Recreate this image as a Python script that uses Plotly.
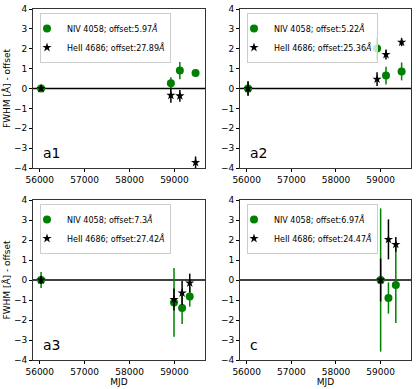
import plotly.graph_objects as go

# ---------------- data ----------------
panel_names = ["a1", "a2", "a3", "c"]
niv_offsets = ["5.97", "5.22", "7.3", "6.97"]
heii_offsets = ["27.89", "25.36", "27.42", "24.47"]

# NIV 4058 (green circles)
niv_mjd = {
    "a1": [56030, 58920, 59120, 59470],
    "a2": [56030, 58920, 59120, 59470],
    "a3": [56030, 58990, 59170, 59340],
    "c": [59000, 59175, 59340],
}
niv_val = {
    "a1": [0.0, 0.27, 0.90, 0.78],
    "a2": [0.0, 2.01, 0.65, 0.86],
    "a3": [0.0, -1.12, -1.40, -0.83],
    "c": [0.0, -0.90, -0.25],
}
niv_err = {
    "a1": [0.15, 0.30, 0.43, 0.18],
    "a2": [0.35, 0.55, 0.45, 0.45],
    "a3": [0.40, 1.72, 0.80, 0.50],
    "c": [3.58, 0.78, 1.90],
}

# HeII 4686 (black stars)
heii_mjd = {
    "a1": [56030, 58920, 59120, 59470],
    "a2": [56030, 58920, 59120, 59470],
    "a3": [56030, 58990, 59170, 59340],
    "c": [59000, 59175, 59340],
}
heii_val = {
    "a1": [0.0, -0.34, -0.37, -3.72],
    "a2": [0.0, 0.47, 1.71, 2.33],
    "a3": [0.0, -0.97, -0.65, -0.15],
    "c": [0.0, 2.03, 1.78],
}
heii_err = {
    "a1": [0.10, 0.38, 0.30, 0.30],
    "a2": [0.37, 0.35, 0.25, 0.20],
    "a3": [0.20, 0.55, 0.60, 0.47],
    "c": [1.07, 1.00, 0.37],
}

x_tickvals = [56000, 57000, 58000, 59000]
x_ticktext = ["56000", "57000", "58000", "59000"]
y_tickvals = [-4, -3, -2, -1, 0, 1, 2, 3, 4]
y_ticktext = ["\u22124", "\u22123", "\u22122", "\u22121", "0", "1", "2", "3", "4"]
x_range = [55850, 59680]
y_range = [-4, 4]

# ---------------- layout ----------------
W, H = 416, 389
FONT = "DejaVu Sans"
GREEN = "#008000"

# pixel boxes (left, right, top, bottom)
boxes = {
    "a1": (33, 205, 9, 168),
    "a2": (240, 411, 9, 168),
    "a3": (33, 205, 200, 360),
    "c": (240, 411, 200, 360),
}

fig = go.Figure()
layout = dict(
    width=W, height=H,
    margin=dict(l=0, r=0, t=0, b=0),
    paper_bgcolor="white", plot_bgcolor="white",
    font=dict(family=FONT, size=9, color="black"),
    showlegend=True,
)

for i, name in enumerate(panel_names):
    k = "" if i == 0 else str(i + 1)
    L, R, T, B = boxes[name]
    xd = [L / W, R / W]
    yd = [1 - B / H, 1 - T / H]
    xa = dict(
        domain=xd, range=x_range, anchor="y" + k,
        tickvals=x_tickvals, ticktext=x_ticktext,
        ticks="outside", ticklen=3, tickwidth=0.8, tickcolor="black",
        showgrid=False, zeroline=False, showline=True, linecolor="#333",
        linewidth=1, mirror=True, tickfont=dict(size=9, family=FONT),
        automargin=False,
    )
    ya = dict(
        domain=yd, range=y_range, anchor="x" + k,
        tickvals=y_tickvals, ticktext=y_ticktext,
        ticks="outside", ticklen=3, tickwidth=0.8, tickcolor="black",
        showgrid=False, zeroline=False, showline=True, linecolor="#333",
        linewidth=1, mirror=True, tickfont=dict(size=9, family=FONT),
        automargin=False,
    )
    if name in ("a3", "c"):
        xa["title"] = dict(text="MJD", font=dict(size=9, family=FONT), standoff=0)
    if name in ("a1", "a3"):
        ya["title"] = dict(text="FWHM [\u00c5] - offset", font=dict(size=9, family=FONT), standoff=1)
    layout["xaxis" + k] = xa
    layout["yaxis" + k] = ya

    lg = "legend" + k
    layout[lg] = dict(
        x=(L + 7) / W, y=1 - (T + 4) / H, xanchor="left", yanchor="top",
        bgcolor="rgba(255,255,255,0.8)", bordercolor="#cccccc", borderwidth=1,
        font=dict(size=8, family=FONT, color="black"),
        itemwidth=30, tracegroupgap=0, indentation=-14,
    )

    fig.add_trace(go.Scatter(
        x=niv_mjd[name], y=niv_val[name], mode="markers",
        marker=dict(symbol="circle", size=8, color=GREEN),
        error_y=dict(type="data", array=niv_err[name], color=GREEN, thickness=1.5, width=0),
        name="NIV 4058; offset:" + niv_offsets[i] + "<i>\u00c5</i>",
        xaxis="x" + k, yaxis="y" + k, legend=lg,
    ))
    fig.add_trace(go.Scatter(
        x=heii_mjd[name], y=heii_val[name], mode="markers",
        marker=dict(symbol="star", size=7, color="black"),
        error_y=dict(type="data", array=heii_err[name], color="black", thickness=1.5, width=0),
        name="HeII 4686; offset:" + heii_offsets[i] + "<i>\u00c5</i>",
        xaxis="x" + k, yaxis="y" + k, legend=lg,
    ))

    fig.add_shape(type="line", xref=("x" + k + " domain"), yref="y" + k,
                  x0=0, x1=1, y0=0, y1=0, line=dict(color="black", width=1.5),
                  layer="below")
    fig.add_annotation(text=name, xref="paper", yref="paper",
                       x=(L + 9) / W, y=1 - (B - 6) / H, xanchor="left", yanchor="bottom",
                       showarrow=False, borderpad=0,
                       font=dict(size=14, family=FONT, color="black"))

fig.update_layout(**layout)
fig.write_html(
    "out.html",
    config={"displayModeBar": False},
    post_script="document.body.style.margin='0';document.body.style.overflow='hidden';",
)
